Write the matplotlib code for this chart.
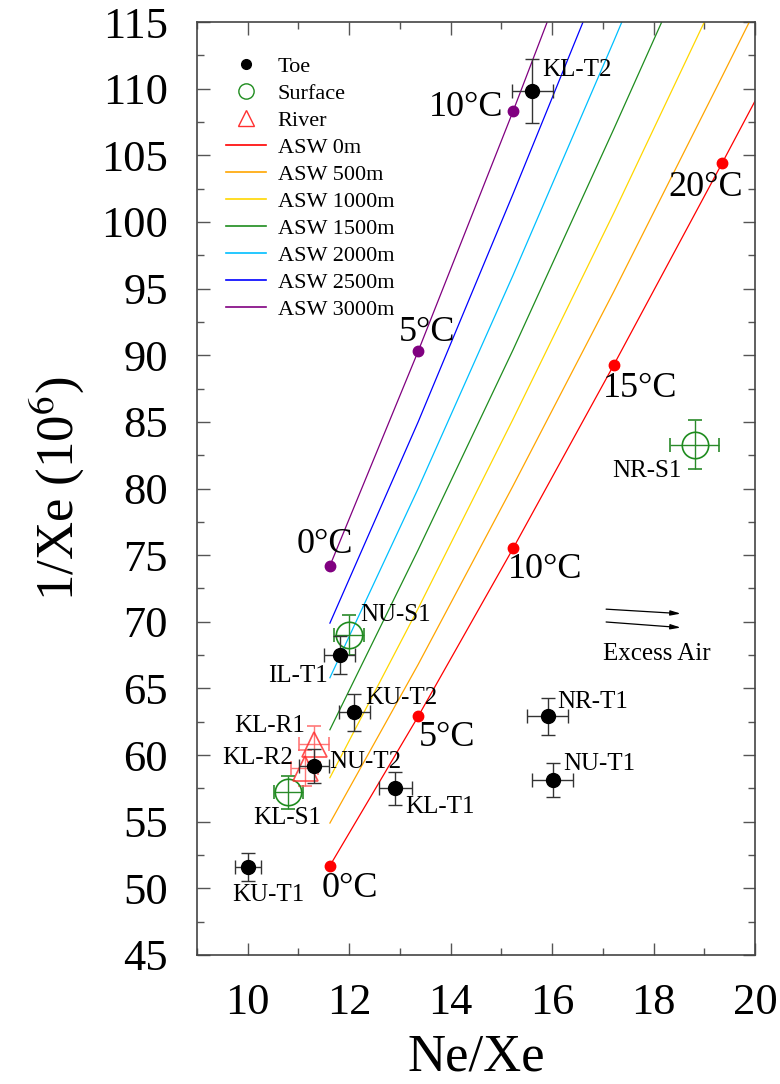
import matplotlib
matplotlib.use("Agg")
import matplotlib.pyplot as plt
from matplotlib.lines import Line2D
import numpy as np

plt.rcParams['font.family'] = ['Liberation Serif', 'DejaVu Serif']
plt.rcParams['mathtext.fontset'] = 'stix'

# ASW equilibrium curves, temperatures 0..25 C
temps = [0, 5, 10, 15, 20, 25]
asw_nexe = [11.62, 13.36, 15.23, 17.22, 19.35, 21.62]
asw_names = ["ASW 0m", "ASW 500m", "ASW 1000m", "ASW 1500m", "ASW 2000m", "ASW 2500m", "ASW 3000m"]
asw_colors = ["#ff0000", "#ffa500", "#ffd700", "#1e8c1e", "#00bfff", "#0000ff", "#800080"]
asw_0m = [51.7, 62.9, 75.5, 89.3, 104.4, 120.7]
asw_500m = [54.9, 66.8, 80.2, 94.8, 110.9, 128.2]
asw_1000m = [58.3, 71.0, 85.2, 100.7, 117.8, 136.1]
asw_1500m = [61.9, 75.4, 90.4, 107.0, 125.1, 144.6]
asw_2000m = [65.8, 80.0, 96.0, 113.6, 132.8, 153.5]
asw_2500m = [69.9, 85.0, 102.1, 120.7, 141.1, 163.2]
asw_3000m = [74.2, 90.3, 108.3, 128.1, 149.8, 173.2]
asw_curves = [asw_0m, asw_500m, asw_1000m, asw_1500m, asw_2000m, asw_2500m, asw_3000m]

# temperature markers
red_temp_labels = ["0°C", "5°C", "10°C", "15°C", "20°C"]
red_label_xy = [(12.02, 50.0), (13.93, 61.3), (15.86, 73.9), (17.74, 87.5), (19.02, 102.6)]
purple_temp_labels = ["0°C", "5°C", "10°C"]
purple_label_xy = [(11.52, 75.8), (13.54, 91.7), (15.04, 108.6)]

# samples
toe_names = ["KL-T2", "IL-T1", "KU-T2", "NU-T2", "KL-T1", "KU-T1", "NR-T1", "NU-T1"]
toe_x = [15.61, 11.81, 12.10, 11.31, 12.91, 10.01, 15.91, 16.01]
toe_y = [109.8, 67.5, 63.2, 59.2, 57.5, 51.6, 62.9, 58.1]
toe_xerr = [0.40, 0.31, 0.31, 0.29, 0.32, 0.26, 0.40, 0.41]
toe_yerr = [2.4, 1.45, 1.37, 1.29, 1.25, 1.06, 1.36, 1.28]
toe_label_xy = [(15.80, 111.4, 'left'), (11.57, 65.9, 'right'), (12.31, 64.3, 'left'),
                (11.61, 59.5, 'left'), (13.10, 56.1, 'left'), (10.40, 49.5, 'center'),
                (16.11, 64.0, 'left'), (16.21, 59.3, 'left')]

surf_names = ["NU-S1", "KL-S1", "NR-S1"]
surf_x = [12.00, 10.80, 18.81]
surf_y = [69.0, 57.2, 83.3]
surf_xerr = [0.30, 0.28, 0.48]
surf_yerr = [1.5, 1.25, 1.84]
surf_label_xy = [(12.21, 70.5, 'left'), (10.77, 55.3, 'center'), (18.56, 81.3, 'right')]

river_names = ["KL-R1", "KL-R2"]
river_x = [11.31, 11.12]
river_y = [60.8, 59.0]
river_xerr = [0.29, 0.27]
river_yerr = [1.35, 1.35]
river_label_xy = [(11.13, 62.2, 'right'), (10.89, 59.8, 'right')]

# excess air arrows
arrow_start = [(17.01, 70.96), (17.01, 70.0)]
arrow_end = [(18.59, 70.6), (18.59, 69.55)]

fig = plt.figure(figsize=(7.8, 10.84), dpi=100)
ax = fig.add_axes([197/780, 1 - 955/1084, (755-197)/780, (955-22)/1084])

for yv, c in zip(asw_curves, asw_colors):
    ax.plot(asw_nexe, yv, color=c, lw=0.9, zorder=2)

ax.plot(asw_nexe[:5], asw_0m[:5], 'o', color='#ff0000', ms=7.5, zorder=3)
ax.plot(asw_nexe[:3], asw_3000m[:3], 'o', color='#800080', ms=7.5, zorder=3)
for lab, (tx, ty) in zip(red_temp_labels, red_label_xy):
    ax.text(tx, ty, lab, fontsize=26, ha='center', va='center')
for i, (lab, (tx, ty)) in enumerate(zip(purple_temp_labels, purple_label_xy)):
    ax.text(tx, ty, lab, fontsize=26, ha='right' if i == 2 else 'center', va='center')

ax.errorbar(toe_x, toe_y, xerr=toe_xerr, yerr=toe_yerr, fmt='o', color='black',
            ecolor='#333333', ms=10, capsize=5, elinewidth=1, zorder=5)
ax.errorbar(surf_x, surf_y, xerr=surf_xerr, yerr=surf_yerr, fmt='o', mfc='none',
            mec='#1e8c1e', ecolor='#2a8a2a', ms=19, mew=1.2, capsize=5, elinewidth=1, zorder=4)
ax.errorbar(river_x, river_y, xerr=river_xerr, yerr=river_yerr, fmt='^', mfc='none',
            mec='#ff3030', ecolor='#ff6060', ms=18, mew=1.2, capsize=5, elinewidth=1,
            alpha=0.85, zorder=4)

for names, pos in [(toe_names, toe_label_xy), (surf_names, surf_label_xy), (river_names, river_label_xy)]:
    for n, (tx, ty, ha) in zip(names, pos):
        ax.text(tx, ty, n, fontsize=18, ha=ha, va='center', zorder=6)

for s, e in zip(arrow_start, arrow_end):
    ax.annotate("", xy=e, xytext=s,
                arrowprops=dict(arrowstyle='-|>,head_length=0.6,head_width=0.15', color='black', lw=0.9))
ax.text(17.01, 67.6, "Excess Air", fontsize=18, ha='left', va='center')

ax.set_xlim(9, 20)
ax.set_ylim(45, 115)
ax.set_xticks([10, 12, 14, 16, 18, 20])
ax.set_xticks(np.arange(9, 20.5, 1), minor=True)
ax.set_yticks(np.arange(45, 116, 5))
ax.set_yticks(np.arange(45, 115.1, 2.5), minor=True)
ax.tick_params(which='both', direction='in', top=True, right=True, colors='#555555',
               labelcolor='black', labelsize=32)
ax.tick_params(which='major', length=9, width=1)
ax.tick_params(which='minor', length=5, width=1)
ax.tick_params(axis='y', pad=21)
ax.tick_params(axis='x', pad=20)
for sp in ax.spines.values():
    sp.set_color('#444444')
    sp.set_linewidth(1.2)

ax.set_xlabel("Ne/Xe", fontsize=38, labelpad=8)
ax.set_ylabel(r"1/Xe (10$^{6}$)", fontsize=38, labelpad=10)

handles = [Line2D([], [], ls='none', marker='o', color='black', ms=7),
           Line2D([], [], ls='none', marker='o', mfc='none', mec='#1e8c1e', ms=11),
           Line2D([], [], ls='none', marker='^', mfc='none', mec='#ff3030', ms=11)]
handles += [Line2D([], [], color=c, lw=1.2) for c in asw_colors]
labels = ["Toe", "Surface", "River"] + asw_names
ax.legend(handles, labels, loc='upper left', frameon=False, fontsize=16,
          labelspacing=0.29, handlelength=1.8, handletextpad=0.5,
          bbox_to_anchor=(0.017, 0.985))

fig.savefig("out.png", dpi=100)
